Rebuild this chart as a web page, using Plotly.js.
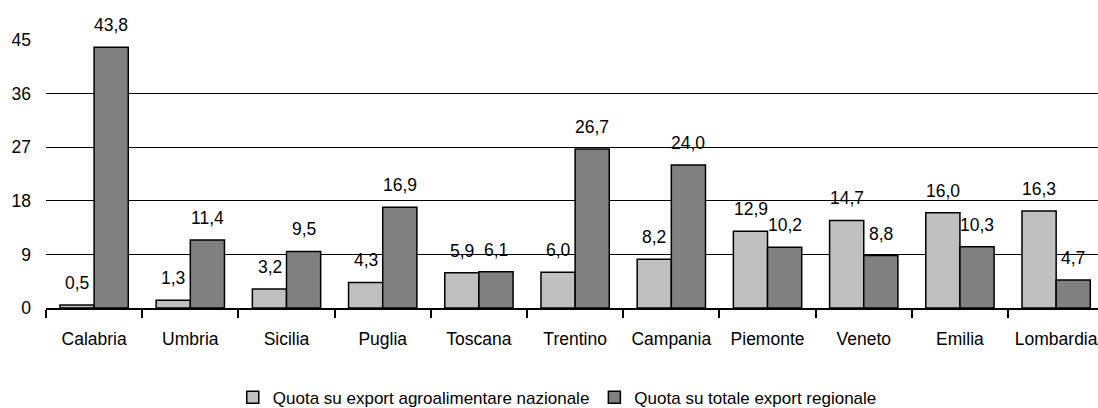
<!DOCTYPE html>
<html>
<head>
<meta charset="utf-8">
<script src="https://cdn.plot.ly/plotly-3.0.1.min.js"></script>
<style>
  html, body { margin: 0; padding: 0; background: white; }
  #chart { width: 1098px; height: 408px; }
</style>
</head>
<body>
<div id="chart"></div>
<script>
// regions and the two shares (%)
var regions = ['Calabria', 'Umbria', 'Sicilia', 'Puglia', 'Toscana', 'Trentino',
               'Campania', 'Piemonte', 'Veneto', 'Emilia', 'Lombardia'];
var quotaNazionale = [0.5, 1.3, 3.2, 4.3, 5.9, 6.0, 8.2, 12.9, 14.7, 16.0, 16.3];
var quotaRegionale = [43.8, 11.4, 9.5, 16.9, 6.1, 26.7, 24.0, 10.2, 8.8, 10.3, 4.7];
var yTicks = [0, 9, 18, 27, 36, 45];

var FONT = 'Liberation Sans, Arial, sans-serif';

var traceNaz = {
    x: regions,
    y: quotaNazionale,
    type: 'bar',
    name: 'Quota su export agroalimentare nazionale',
    marker: { color: '#c0c0c0', line: { color: 'black', width: 1.5 } },
    hoverinfo: 'none'
};

var traceReg = {
    x: regions,
    y: quotaRegionale,
    type: 'bar',
    name: 'Quota su totale export regionale',
    marker: { color: '#808080', line: { color: 'black', width: 1.5 } },
    hoverinfo: 'none'
};

// value labels sit a bit above each bar, over its half of the group
function fmt(v) { return v.toFixed(1).replace('.', ','); }
var annotations = [];
regions.forEach(function(r, i) {
    annotations.push({ x: r, y: quotaNazionale[i], text: fmt(quotaNazionale[i]),
        xshift: -17, yshift: 10, yanchor: 'bottom', showarrow: false });
    annotations.push({ x: r, y: quotaRegionale[i], text: fmt(quotaRegionale[i]),
        xshift: 17, yshift: 10, yanchor: 'bottom', showarrow: false });
});

var layout = {
    width: 1098,
    height: 408,
    margin: { l: 46, r: 0, t: 40, b: 100 },
    paper_bgcolor: 'white',
    plot_bgcolor: 'white',
    font: { family: FONT, size: 17.5, color: 'black' },
    barmode: 'group',
    bargap: 0.29,
    bargroupgap: 0,
    showlegend: true,
    legend: {
        orientation: 'h', x: 0.486, xanchor: 'center',
        yref: 'container', y: 0.025, yanchor: 'middle',
        font: { size: 17 }, traceorder: 'normal', itemwidth: 30
    },
    xaxis: {
        type: 'category',
        range: [-0.5, 10.435],
        tickangle: 0,
        showgrid: false,
        showline: true, linecolor: 'black', linewidth: 2,
        ticks: 'outside', tickson: 'boundaries', ticklen: 8, tickwidth: 2, tickcolor: 'black',
        ticklabelstandoff: 14,
        zeroline: false,
        fixedrange: true
    },
    yaxis: {
        range: [0, 45],
        tickvals: yTicks,
        showgrid: true, gridcolor: 'black', gridwidth: 1,
        showline: false, zeroline: false,
        ticks: '', ticklabelstandoff: 14,
        fixedrange: true
    },
    annotations: annotations
};

Plotly.newPlot('chart', [traceNaz, traceReg], layout, { staticPlot: true });
</script>
</body>
</html>
